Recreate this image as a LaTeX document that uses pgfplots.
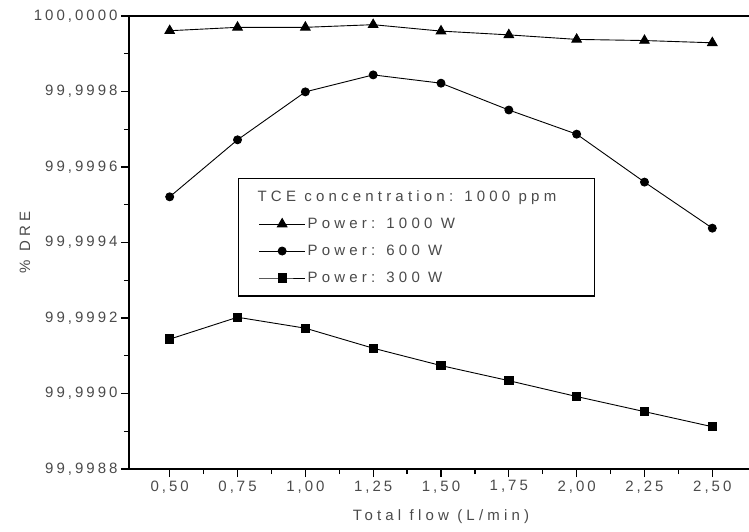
\documentclass[border=0pt]{standalone}
\usepackage{fontspec}
\setmainfont{Liberation Sans}[LetterSpace=20]
\newfontfamily\legfont{Liberation Sans}[LetterSpace=28]
\usepackage{pgfplots}
\usepackage{pgfplotstable}
\pgfplotsset{compat=1.18}
\definecolor{txtgray}{HTML}{4A4A4A}

% y = (DRE - 99.99) * 10^4, so 88 = 99,9988 and 100 = 100,0000
\pgfplotstableread{
x y
0.50 99.61
0.75 99.70
1.00 99.70
1.25 99.77
1.50 99.60
1.75 99.50
2.00 99.38
2.25 99.35
2.50 99.29
}\pwA
\pgfplotstableread{
x y
0.50 95.21
0.75 96.72
1.00 97.99
1.25 98.44
1.50 98.22
1.75 97.51
2.00 96.87
2.25 95.60
2.50 94.38
}\pwB
\pgfplotstableread{
x y
0.50 91.44
0.75 92.02
1.00 91.73
1.25 91.20
1.50 90.74
1.75 90.34
2.00 89.92
2.25 89.52
2.50 89.12
}\pwC

\begin{document}
\begin{tikzpicture}
\begin{axis}[
 scale only axis,width=624pt,height=453pt,
 xmin=0.35,xmax=2.65,ymin=88,ymax=100,
 xtick={0.5,0.75,1,1.25,1.5,1.75,2,2.25,2.5},
 xticklabels={{0,50},{0,75},{1,00},{1,25},{1,50},{1,75},{2,00},{2,25},{2,50}},
 ytick={88,90,92,94,96,98,100},
 yticklabels={{99,9988},{99,9990},{99,9992},{99,9994},{99,9996},{99,9998},{100,0000}},
 minor x tick num=1,minor y tick num=1,
 tick align=outside,tick pos=left,
 major tick length=8pt,minor tick length=5pt,
 every tick/.style={black,line width=1.3pt},
 axis line style={line width=1.6pt},
 tick label style={font=\fontsize{15}{17}\selectfont,text=txtgray},
 xlabel={Total flow (L/min)},
 ylabel={\% DRE},
 every axis x label/.style={at={(axis description cs:0.5,0)},yshift=-48pt,anchor=center,
   font=\legfont\fontsize{15}{17}\selectfont,text=txtgray},
 every axis y label/.style={at={(axis description cs:0,0.5)},xshift=-104pt,rotate=90,anchor=center,
   font=\legfont\fontsize{15}{17}\selectfont,text=txtgray},
 legend cell align=left,
 legend image code/.code={\draw[mark repeat=2,mark phase=2,#1]
   plot coordinates {(0pt,0pt) (23pt,0pt) (46pt,0pt)};},
 legend style={at={(axis description cs:0.1747,0.6424)},anchor=north west,
   draw=black,line width=1.4pt,inner xsep=20pt,inner ysep=10pt,
   font=\legfont\fontsize{15}{17}\selectfont,text=txtgray,row sep=11pt},
]
\addlegendimage{empty legend}
\addlegendentry{\hspace*{-50pt}TCE concentration: 1000 ppm\hspace*{16pt}}
\addplot[black,line width=0.9pt,mark=triangle*,mark size=5.5pt] table[x=x,y=y]{\pwA};
\addlegendentry{Power: 1000 W}
\addplot[black,line width=0.9pt,mark=*,mark size=4pt] table[x=x,y=y]{\pwB};
\addlegendentry{Power: 600 W}
\addplot[black,line width=0.9pt,mark=square*,mark size=4.2pt] table[x=x,y=y]{\pwC};
\addlegendentry{Power: 300 W}
\end{axis}
\pgfresetboundingbox
\path[use as bounding box] (-129pt,-62pt) rectangle (620pt,469pt);
\end{tikzpicture}
\end{document}
